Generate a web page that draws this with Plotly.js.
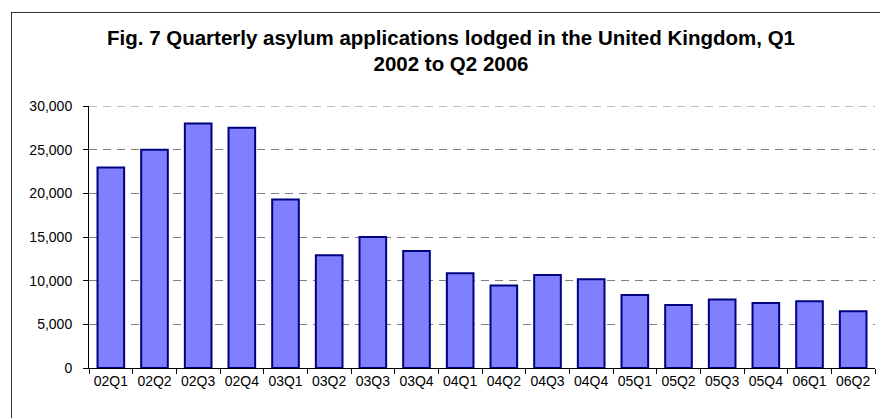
<!DOCTYPE html>
<html>
<head>
<meta charset="utf-8">
<script src="https://cdn.plot.ly/plotly-3.0.1.min.js"></script>
<style>
html,body{margin:0;padding:0;background:#fff;overflow:hidden;}
#wrap{position:relative;width:880px;height:418px;overflow:hidden;}
#chart{width:880px;height:418px;}
#frame{position:absolute;left:11px;top:12px;width:1000px;height:1000px;border-left:1.5px solid #333;border-top:1.5px solid #333;pointer-events:none;}
</style>
</head>
<body>
<div id="wrap"><div id="chart"></div><div id="frame"></div></div>
<script>
var quarters = ["02Q1","02Q2","02Q3","02Q4","03Q1","03Q2","03Q3","03Q4","04Q1","04Q2","04Q3","04Q4","05Q1","05Q2","05Q3","05Q4","06Q1","06Q2"];
var applications = [22950, 25000, 28000, 27500, 19300, 12900, 15000, 13400, 10850, 9450, 10650, 10150, 8350, 7200, 7850, 7450, 7650, 6500];
var yTicks = [0, 5000, 10000, 15000, 20000, 25000, 30000];
var yTickLabels = ["0", "5,000", "10,000", "15,000", "20,000", "25,000", "30,000"];
var titleText = "Fig. 7 Quarterly asylum applications lodged in the United Kingdom, Q1<br>2002 to Q2 2006";
var yMax = 30000;

var trace = {
  type: "bar",
  x: quarters,
  y: applications,
  marker: {color: "#8080FF", line: {color: "#000080", width: 2}},
  hoverinfo: "x+y"
};

var layout = {
  width: 880,
  height: 418,
  margin: {l: 89, r: 5, t: 106, b: 50, pad: 0},
  paper_bgcolor: "#ffffff",
  plot_bgcolor: "#ffffff",
  showlegend: false,
  bargap: 0.39,
  font: {family: "Arial, 'Liberation Sans', sans-serif", color: "#000000", size: 14},
  title: {
    text: titleText,
    font: {family: "Arial, 'Liberation Sans', sans-serif", size: 20.5, color: "#000000", weight: "bold"},
    xref: "container", x: 0.5125, xanchor: "center",
    yref: "container", y: 0.893, yanchor: "top"
  },
  xaxis: {
    type: "category",
    showline: true, linecolor: "#000000", linewidth: 1,
    ticks: "outside", ticklen: 5, tickcolor: "#000000", tickson: "boundaries",
    showgrid: false, zeroline: false,
    tickfont: {size: 14, color: "#000000"},
    fixedrange: true
  },
  yaxis: {
    range: [0, yMax],
    tickvals: yTicks, ticktext: yTickLabels,
    showline: true, linecolor: "#000000", linewidth: 1,
    ticks: "outside", ticklen: 5, tickcolor: "#000000",
    showgrid: true, gridcolor: "#808080", gridwidth: 1, griddash: "8px,6px",
    zeroline: false,
    tickfont: {size: 14, color: "#000000"},
    ticklabelstandoff: 8,
    fixedrange: true
  },
  shapes: [
    {
      type: "line", xref: "paper", yref: "y",
      x0: 0, x1: 1, y0: yMax, y1: yMax,
      line: {color: "#808080", width: 1, dash: "8px,6px"}, layer: "below"
    }
  ]
};

Plotly.newPlot("chart", [trace], layout, {displayModeBar: false, staticPlot: true});
</script>
</body>
</html>
